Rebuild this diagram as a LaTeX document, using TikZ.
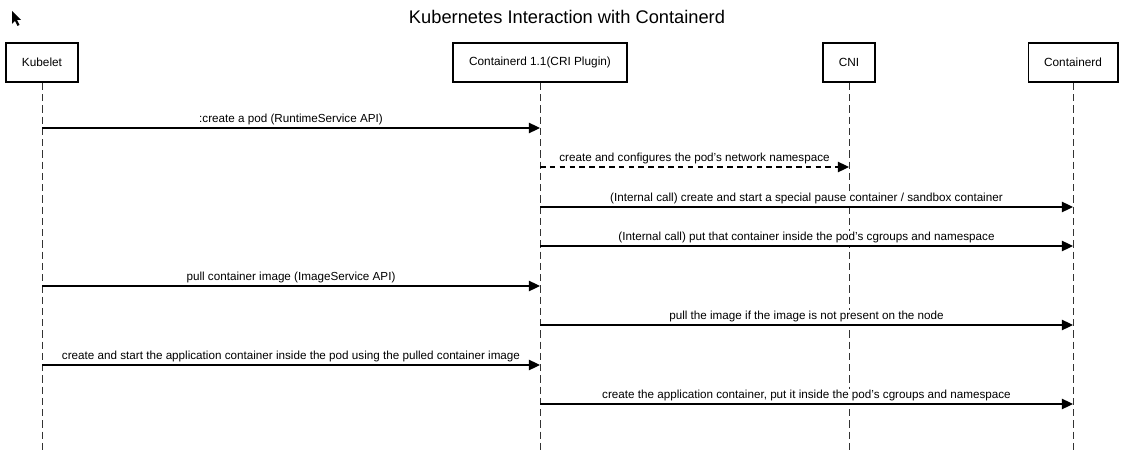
\documentclass[tikz,border=0pt]{standalone}
\usepackage{fontspec}
\setmainfont{Liberation Sans}
\usetikzlibrary{arrows.meta}
\newcommand{\boxy}{62.5}
\newcommand{\lifeend}{450}
\newcommand{\msgfont}{\fontsize{8.3}{10}\selectfont}
\newcommand{\boxfont}{\fontsize{8.4}{10}\selectfont}
\tikzset{
  actor/.style={draw, line width=1.4pt, minimum height=0.975cm,
    inner sep=0pt, font=\boxfont},
  lifeline/.style={black!80, line width=0.7pt, dash pattern=on 5pt off 3pt},
  msg/.style={line width=0.85pt, -{Triangle[length=8pt,width=7.5pt]}},
  reply/.style={msg, dash pattern=on 4pt off 3pt},
  msglabel/.style={above=0.5pt, fill=white, inner sep=1pt, font=\msgfont}
}
\begin{document}
\begin{tikzpicture}[x=0.025cm, y=-0.025cm]
  \useasboundingbox (0,0) rectangle (1124,453);
  % title
  \node[font=\fontsize{13}{15}\selectfont] (title) at (567,17)
    {Kubernetes Interaction with Containerd};
  % pointer
  \fill (12,11) -- (12,24) -- (15,21) -- (17.5,26) -- (19.5,25)
    -- (17,20) -- (21,20) -- cycle;
  % participants
  \node[actor, minimum width=1.8cm] (kubelet) at (42,\boxy) {Kubelet};
  \node[actor, minimum width=4.35cm] (cri) at (540,\boxy)
    {Containerd 1.1(CRI Plugin)};
  \node[actor, minimum width=1.3cm] (cni) at (849,\boxy) {CNI};
  \node[actor, minimum width=2.225cm] (ctrd) at (1073,\boxy) {Containerd};
  \begin{scope}
    \foreach \p in {kubelet, cri, cni, ctrd} {
      \coordinate (\p end) at (\p |- 0,\lifeend);
      \draw[lifeline] (\p.south) -- (\p end);
    }
  \end{scope}
  % messages
  \begin{scope}
    \foreach \i/\a/\b/\y/\s/\txt in {
      1/kubelet/cri/128/msg/{:create a pod (RuntimeService API)},
      2/cri/cni/167/reply/{create and configures the pod’s network namespace},
      3/cri/ctrd/207/msg/{(Internal call) create and start a special pause container / sandbox container},
      4/cri/ctrd/246/msg/{(Internal call) put that container inside the pod’s cgroups and namespace},
      5/kubelet/cri/286/msg/{pull container image (ImageService API)},
      6/cri/ctrd/325/msg/{pull the image if the image is not present on the node},
      7/kubelet/cri/365/msg/{create and start the application container inside the pod using the pulled container image},
      8/cri/ctrd/404/msg/{create the application container, put it inside the pod’s cgroups and namespace}} {
      \coordinate (m\i s) at (\a |- 0,\y);
      \coordinate (m\i e) at (\b |- 0,\y);
      \draw[\s] (m\i s) -- node[msglabel] {\txt} (m\i e);
    }
  \end{scope}
\end{tikzpicture}
\end{document}
